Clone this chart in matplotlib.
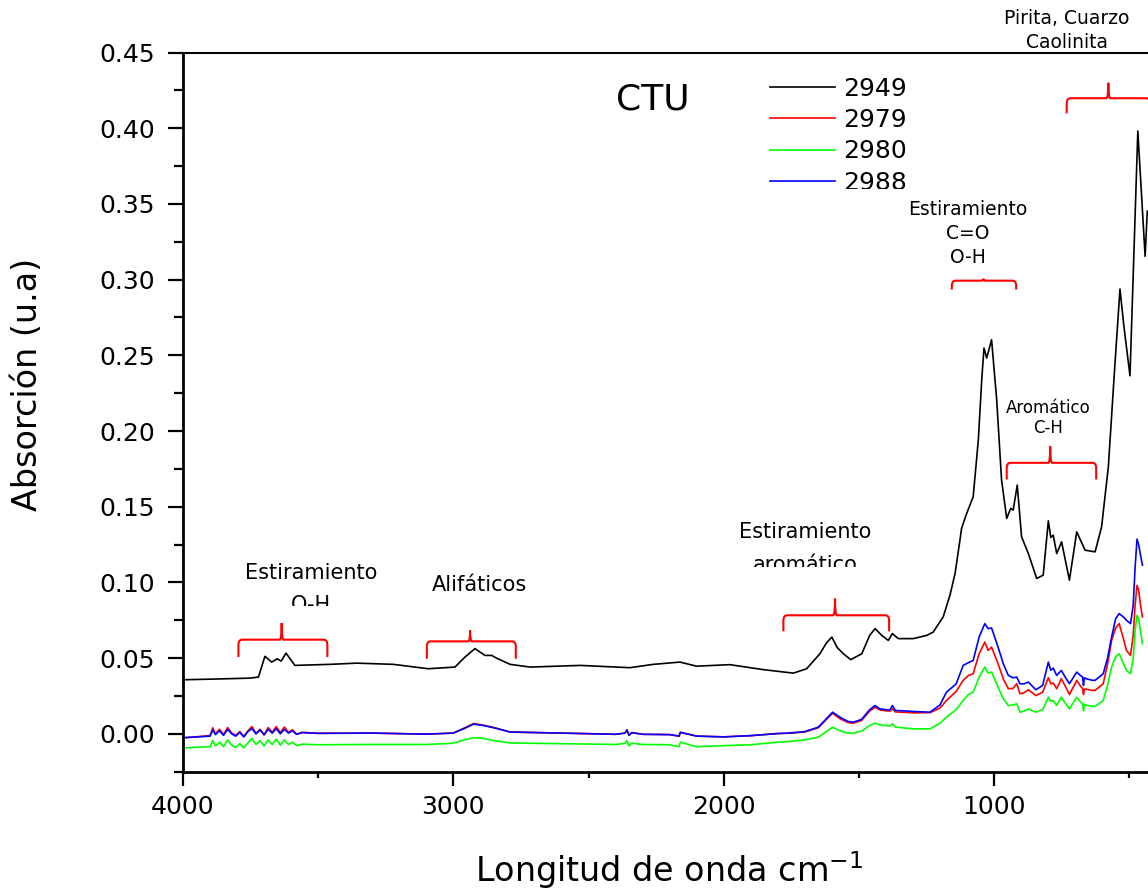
import matplotlib
matplotlib.use("Agg")
import matplotlib.pyplot as plt
from matplotlib.path import Path
from matplotlib.patches import PathPatch
from matplotlib.ticker import MultipleLocator, FormatStrFormatter
from matplotlib.transforms import Bbox, TransformedBbox

# muestra 2949 (negro)
bk_wn = [4000, 3880, 3752, 3721, 3697, 3672, 3651, 3637, 3619, 3586, 3456, 3357,
         3222, 3093, 2994, 2957, 2920, 2883, 2858, 2840, 2790, 2716, 2531, 2347,
         2260, 2162, 2100, 1977, 1853, 1742, 1693, 1644, 1620, 1600, 1580, 1557,
         1530, 1489, 1460, 1440, 1415, 1391, 1376, 1354, 1299, 1249, 1225, 1188,
         1163, 1144, 1126, 1120, 1101, 1077, 1058, 1045, 1037, 1027, 1009, 990,
         972, 953, 938, 929, 914, 898, 873, 842, 818, 799, 790, 781, 768, 750,
         721, 694, 663, 626, 602, 577, 556, 534, 520, 497, 468, 441, 433]
bk_ab = [0.0357, 0.0362, 0.0368, 0.0375, 0.0512, 0.0474, 0.0496, 0.0480, 0.0533,
         0.0452, 0.0459, 0.0467, 0.0459, 0.0430, 0.0441, 0.0507, 0.0563, 0.0518,
         0.0518, 0.0500, 0.0459, 0.0441, 0.0452, 0.0437, 0.0459, 0.0474, 0.0447,
         0.0457, 0.0424, 0.0401, 0.0430, 0.0529, 0.0600, 0.0639, 0.0570, 0.0529,
         0.0490, 0.0529, 0.0650, 0.0695, 0.0650, 0.0617, 0.0662, 0.0629, 0.0629,
         0.0650, 0.0672, 0.0772, 0.0915, 0.1059, 0.1279, 0.1357, 0.1456, 0.1566,
         0.1941, 0.2350, 0.2548, 0.2482, 0.2603, 0.2206, 0.1676, 0.1423, 0.1489,
         0.1478, 0.1643, 0.1301, 0.1191, 0.1026, 0.1048, 0.1407, 0.1297, 0.1312,
         0.1191, 0.1268, 0.1015, 0.1334, 0.1213, 0.1202, 0.1367, 0.1764, 0.2350,
         0.2938, 0.2700, 0.2365, 0.3981, 0.3154, 0.3452]

# muestras 2979 (rojo), 2980 (verde), 2988 (azul)
col_wn = [4000, 3900, 3890, 3880, 3865, 3850, 3835, 3820, 3805, 3790, 3775, 3760,
          3745, 3730, 3715, 3700, 3685, 3670, 3655, 3640, 3625, 3610, 3595, 3580,
          3560, 3500, 3300, 3100, 3000, 2960, 2925, 2890, 2850, 2790, 2600, 2400,
          2365, 2358, 2350, 2340, 2300, 2200, 2165, 2160, 2100, 2000, 1900, 1800,
          1755, 1700, 1650, 1620, 1597, 1570, 1540, 1521, 1490, 1460, 1440, 1422,
          1400, 1385, 1376, 1365, 1299, 1237, 1200, 1176, 1140, 1114, 1095, 1077,
          1055, 1034, 1022, 1009, 985, 965, 947, 930, 916, 904, 890, 873, 845, 820,
          799, 790, 781, 768, 751, 735, 721, 694, 680, 672, 669, 666, 660, 640, 626,
          596, 580, 565, 550, 537, 520, 510, 495, 485, 478, 471, 465, 458, 451]
red_ab = [-0.0026, -0.0012, 0.0040, 0.0000, 0.0030, -0.0005, 0.0042, 0.0005,
          -0.0010, 0.0015, -0.0018, 0.0020, 0.0048, 0.0003, 0.0030, -0.0008,
          0.0042, 0.0010, 0.0048, 0.0008, 0.0045, 0.0010, 0.0028, -0.0003, 0.0010,
          0.0004, 0.0005, -0.0002, 0.0005, 0.0038, 0.0068, 0.0058, 0.0042, 0.0012,
          0.0005, -0.0003, 0.0005, 0.0026, -0.0010, 0.0008, -0.0003, -0.0005,
          -0.0015, 0.0010, -0.0015, -0.0020, -0.0012, 0.0002, 0.0004, 0.0012,
          0.0040, 0.0095, 0.0136, 0.0100, 0.0075, 0.0070, 0.0088, 0.0150, 0.0176,
          0.0158, 0.0152, 0.0150, 0.0165, 0.0145, 0.0139, 0.0140, 0.0170, 0.0220,
          0.0280, 0.0353, 0.0385, 0.0397, 0.0529, 0.0606, 0.0551, 0.0573, 0.0463,
          0.0360, 0.0298, 0.0300, 0.0331, 0.0265, 0.0270, 0.0291, 0.0253, 0.0275,
          0.0371, 0.0330, 0.0335, 0.0298, 0.0364, 0.0310, 0.0260, 0.0353, 0.0315,
          0.0298, 0.0260, 0.0295, 0.0295, 0.0288, 0.0287, 0.0331, 0.0460, 0.0617,
          0.0700, 0.0728, 0.0620, 0.0551, 0.0518, 0.0650, 0.0850, 0.0981, 0.0950,
          0.0850, 0.0772]
green_ab = [-0.0093, -0.0085, -0.0045, -0.0080, -0.0055, -0.0085, -0.0040,
            -0.0075, -0.0090, -0.0065, -0.0092, -0.0060, -0.0030, -0.0070,
            -0.0045, -0.0080, -0.0040, -0.0070, -0.0035, -0.0075, -0.0040,
            -0.0070, -0.0055, -0.0078, -0.0068, -0.0072, -0.0070, -0.0070,
            -0.0062, -0.0040, -0.0025, -0.0030, -0.0045, -0.0060, -0.0065,
            -0.0070, -0.0063, -0.0045, -0.0080, -0.0062, -0.0070, -0.0072,
            -0.0085, -0.0055, -0.0085, -0.0078, -0.0072, -0.0055, -0.0050,
            -0.0040, -0.0022, 0.0015, 0.0044, 0.0020, 0.0005, 0.0004, 0.0018,
            0.0055, 0.0070, 0.0060, 0.0055, 0.0052, 0.0066, 0.0045, 0.0033,
            0.0033, 0.0070, 0.0110, 0.0160, 0.0220, 0.0260, 0.0275, 0.0375,
            0.0441, 0.0401, 0.0408, 0.0308, 0.0230, 0.0187, 0.0190, 0.0199,
            0.0143, 0.0150, 0.0165, 0.0143, 0.0160, 0.0242, 0.0215, 0.0220,
            0.0187, 0.0242, 0.0200, 0.0165, 0.0242, 0.0210, 0.0199, 0.0154,
            0.0195, 0.0190, 0.0183, 0.0181, 0.0220, 0.0320, 0.0441, 0.0510,
            0.0529, 0.0460, 0.0419, 0.0397, 0.0500, 0.0680, 0.0783, 0.0760,
            0.0680, 0.0596]
blue_ab = [-0.0026, -0.0015, 0.0025, -0.0005, 0.0020, -0.0010, 0.0030, 0.0000,
           -0.0015, 0.0010, -0.0020, 0.0015, 0.0035, 0.0000, 0.0025, -0.0005,
           0.0030, 0.0005, 0.0035, 0.0000, 0.0030, 0.0005, 0.0020, -0.0003,
           0.0008, 0.0003, 0.0005, -0.0002, 0.0005, 0.0035, 0.0064, 0.0055,
           0.0040, 0.0012, 0.0005, -0.0003, 0.0005, 0.0026, -0.0010, 0.0008,
           -0.0003, -0.0005, -0.0015, 0.0010, -0.0015, -0.0020, -0.0012, 0.0002,
           0.0006, 0.0015, 0.0044, 0.0100, 0.0143, 0.0110, 0.0082, 0.0077,
           0.0095, 0.0160, 0.0187, 0.0165, 0.0160, 0.0158, 0.0187, 0.0155,
           0.0148, 0.0143, 0.0190, 0.0275, 0.0330, 0.0452, 0.0470, 0.0485,
           0.0639, 0.0728, 0.0695, 0.0699, 0.0573, 0.0460, 0.0386, 0.0370,
           0.0375, 0.0331, 0.0330, 0.0342, 0.0291, 0.0320, 0.0474, 0.0420,
           0.0434, 0.0386, 0.0419, 0.0370, 0.0331, 0.0408, 0.0385, 0.0375,
           0.0320, 0.0370, 0.0365, 0.0355, 0.0353, 0.0397, 0.0500, 0.0639,
           0.0760, 0.0794, 0.0770, 0.0750, 0.0728, 0.0850, 0.1100, 0.1286,
           0.1250, 0.1180, 0.1114]

series = [("2949", bk_wn, bk_ab, "black"),
          ("2979", col_wn, red_ab, "#ff0000"),
          ("2980", col_wn, green_ab, "#00ff00"),
          ("2988", col_wn, blue_ab, "#0000ff")]

# llaves rojas: x izq, x der, x centro, y extremos, y barra, y pico
braces = [(3795, 3466, 3635, 0.0507, 0.0622, 0.0732),
          (3098, 2769, 2938, 0.0496, 0.0611, 0.0684),
          (1779, 1388, 1588, 0.0677, 0.0783, 0.0893),
          (953, 622, 792, 0.1680, 0.1790, 0.1900),
          (1156, 918, 1039, 0.2934, 0.2993, 0.3006),
          (731, 423, 577, 0.4098, 0.4198, 0.4300)]

# textos: x, [(linea, y base)], tamaño, corte (px desde arriba)
notes = [(3527, [("Estiramiento", 0.1021), ("O-H", 0.0809)], 15, 606),
         (2905, [("Alifáticos", 0.0944)], 15, None),
         (1697, [("Estiramiento", 0.1291), ("aromático", 0.1077)], 15, 566.7),
         (1096, [("Estiramiento", 0.3430), ("C=O", 0.3265), ("O-H", 0.3110)], 13.5, None),
         (800, [("Aromático", 0.2122), ("C-H", 0.1989)], 12, None),
         (730, [("Pirita, Cuarzo", 0.4688), ("Caolinita", 0.4533)], 13.5, None)]

W, H = 1148, 890
fig = plt.figure(figsize=(W / 100, H / 100), dpi=100)
ax = fig.add_axes([183 / W, 1 - 771.7 / H, 973.2 / W, 719.2 / H])


def clip_at(artist, ypx):
    box = Bbox([[0, 1 - ypx / H], [1, 1]])
    artist.set_clip_on(True)
    artist.set_clip_box(TransformedBbox(box, fig.transFigure))


for name, wn, ab, c in series:
    ax.plot(wn, ab, color=c, lw=1.2, label=name)

for x0, x1, xm, ye, yb, yt in braces:
    dx, dy, dm = 14, 0.0035, 7
    verts = [(x0, ye), (x0, yb - dy), (x0, yb), (x0 - dx, yb),
             (xm + dm, yb), (xm, yb), (xm, yt), (xm, yb), (xm - dm, yb),
             (x1 + dx, yb), (x1, yb), (x1, yb - dy), (x1, ye)]
    codes = [Path.MOVETO, Path.LINETO, Path.CURVE3, Path.CURVE3,
             Path.LINETO, Path.CURVE3, Path.CURVE3, Path.CURVE3, Path.CURVE3,
             Path.LINETO, Path.CURVE3, Path.CURVE3, Path.LINETO]
    ax.add_patch(PathPatch(Path(verts, codes), fill=False, ec="#ff0000",
                           lw=1.5, clip_on=False))

for x, lines, size, cut in notes:
    for txt, yb in lines:
        t = ax.text(x, yb, txt, ha="center", va="baseline", fontsize=size)
        if cut is not None:
            clip_at(t, cut)

ax.text(2261, 0.4191, "CTU", ha="center", va="center", fontsize=26)

ax.set_xlim(4000, 400)
ax.set_ylim(-0.025, 0.45)
ax.xaxis.set_major_locator(MultipleLocator(1000))
ax.xaxis.set_minor_locator(MultipleLocator(500))
ax.yaxis.set_major_locator(MultipleLocator(0.05))
ax.yaxis.set_minor_locator(MultipleLocator(0.025))
ax.yaxis.set_major_formatter(FormatStrFormatter("%.2f"))

ax.spines["right"].set_visible(False)
ax.spines["left"].set_linewidth(2)
ax.spines["bottom"].set_linewidth(2)
ax.spines["top"].set_linewidth(1.5)
ax.tick_params(axis="y", which="major", length=11, width=1.6, pad=9, labelsize=18)
ax.tick_params(axis="y", which="minor", length=6.5, width=1.6)
ax.tick_params(axis="x", which="major", length=10, width=1.6, pad=7, labelsize=18)
ax.tick_params(axis="x", which="minor", length=4.5, width=1.6)

ax.set_xlabel(r"Longitud de onda cm$^{\mathregular{-1}}$", fontsize=24, va="baseline")
ax.xaxis.set_label_coords(0.5, -0.153)
ax.set_ylabel("Absorción (u.a)", fontsize=24, va="center")
ax.yaxis.set_label_coords(-0.160, 0.538)

leg = ax.legend(loc="upper left", bbox_to_anchor=(770 / W, 1 - 76.5 / H),
                bbox_transform=fig.transFigure, frameon=False, fontsize=18,
                handlelength=2.6, handletextpad=0.32, labelspacing=0.3,
                borderpad=0, borderaxespad=0)
clip_at(leg.get_texts()[3], 189)

fig.savefig("out.png", dpi=100)
